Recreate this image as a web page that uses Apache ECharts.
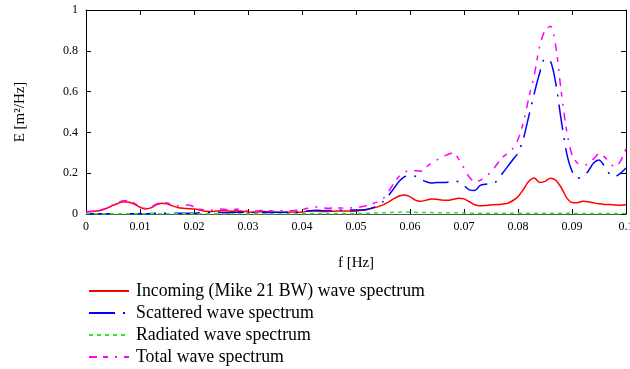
<!DOCTYPE html>
<html>
<head>
<meta charset="utf-8">
<script src="https://cdn.jsdelivr.net/npm/echarts@6/dist/echarts.min.js"></script>
<style>
  html, body { margin: 0; padding: 0; background: #fff; }
  #chart { width: 630px; height: 369px; }
</style>
</head>
<body>
<div id="chart"></div>
<script>
// frequency axis, step 0.001 Hz
const freq = [];
for (let i = 0; i <= 100; i++) freq.push(+(i / 1000).toFixed(3));

const incoming = [
  0.010, 0.012, 0.015, 0.020, 0.030, 0.042, 0.053, 0.060, 0.058, 0.048,
  0.033, 0.025, 0.030, 0.045, 0.053, 0.050, 0.040, 0.032, 0.028, 0.026,
  0.024, 0.020, 0.014, 0.012, 0.013, 0.016, 0.015, 0.014, 0.016, 0.014,
  0.010, 0.008, 0.010, 0.012, 0.010, 0.008, 0.007, 0.008, 0.010, 0.009,
  0.010, 0.013, 0.015, 0.014, 0.012, 0.013, 0.014, 0.015, 0.015, 0.014,
  0.015, 0.018, 0.022, 0.028, 0.035, 0.045, 0.058, 0.075, 0.088, 0.093,
  0.085, 0.068, 0.062, 0.068, 0.073, 0.072, 0.068, 0.067, 0.072, 0.077,
  0.074, 0.060, 0.045, 0.040, 0.042, 0.045, 0.046, 0.048, 0.052, 0.065,
  0.085, 0.120, 0.160, 0.177, 0.155, 0.160, 0.175, 0.165, 0.130, 0.080,
  0.056, 0.055, 0.062, 0.060, 0.055, 0.050, 0.047, 0.046, 0.044, 0.043,
  0.045
];

const scattered = [
  0.001, 0.001, 0.001, 0.001, 0.001, 0.001, 0.001, 0.001, 0.001, 0.001,
  0.001, 0.001, 0.002, 0.004, 0.004, 0.004, 0.004, 0.004, 0.004, 0.004,
  0.004, 0.006, 0.007, 0.008, 0.008, 0.007, 0.006, 0.007, 0.008, 0.008,
  0.007, 0.008, 0.008, 0.008, 0.007, 0.008, 0.008, 0.009, 0.008, 0.008,
  0.010, 0.015, 0.017, 0.018, 0.016, 0.017, 0.018, 0.019, 0.018, 0.019,
  0.020, 0.020, 0.022, 0.030, 0.042, 0.060, 0.090, 0.125, 0.160, 0.183,
  0.187, 0.185, 0.170, 0.158, 0.152, 0.155, 0.155, 0.156, 0.162, 0.158,
  0.140, 0.118, 0.115, 0.140, 0.146, 0.147, 0.160, 0.195, 0.230, 0.265,
  0.300, 0.370, 0.480, 0.590, 0.690, 0.760, 0.750, 0.640, 0.460, 0.300,
  0.210, 0.175, 0.185, 0.210, 0.250, 0.265, 0.235, 0.195, 0.185, 0.200,
  0.225
];

const radiated = [
  0.001, 0.001, 0.001, 0.001, 0.001, 0.001, 0.001, 0.001, 0.001, 0.001,
  0.001, 0.001, 0.001, 0.001, 0.001, 0.001, 0.001, 0.001, 0.001, 0.001,
  0.001, 0.001, 0.001, 0.001, 0.001, 0.001, 0.001, 0.001, 0.001, 0.001,
  0.001, 0.001, 0.001, 0.001, 0.001, 0.001, 0.001, 0.001, 0.001, 0.001,
  0.002, 0.002, 0.002, 0.002, 0.002, 0.002, 0.002, 0.002, 0.002, 0.002,
  0.003, 0.003, 0.004, 0.004, 0.005, 0.006, 0.007, 0.008, 0.009, 0.010,
  0.009, 0.008, 0.007, 0.007, 0.007, 0.006, 0.006, 0.006, 0.006, 0.006,
  0.005, 0.004, 0.004, 0.004, 0.004, 0.004, 0.004, 0.004, 0.004, 0.004,
  0.004, 0.004, 0.004, 0.004, 0.004, 0.004, 0.004, 0.004, 0.004, 0.004,
  0.003, 0.003, 0.003, 0.003, 0.003, 0.003, 0.003, 0.003, 0.003, 0.003,
  0.003
];

const total = [
  0.012, 0.014, 0.017, 0.022, 0.032, 0.045, 0.057, 0.065, 0.063, 0.052,
  0.036, 0.028, 0.033, 0.048, 0.056, 0.054, 0.045, 0.040, 0.044, 0.044,
  0.035, 0.025, 0.020, 0.018, 0.022, 0.025, 0.022, 0.020, 0.024, 0.020,
  0.016, 0.014, 0.016, 0.018, 0.016, 0.015, 0.017, 0.015, 0.016, 0.018,
  0.022, 0.028, 0.032, 0.035, 0.030, 0.028, 0.030, 0.030, 0.028, 0.030,
  0.032, 0.036, 0.042, 0.050, 0.060, 0.075, 0.110, 0.150, 0.185, 0.205,
  0.215, 0.212, 0.210, 0.230, 0.250, 0.265, 0.280, 0.292, 0.300, 0.270,
  0.225, 0.180, 0.160, 0.165, 0.185, 0.205, 0.240, 0.275, 0.295, 0.320,
  0.365, 0.450, 0.570, 0.680, 0.820, 0.900, 0.920, 0.820, 0.600, 0.410,
  0.290, 0.250, 0.240, 0.245, 0.270, 0.295, 0.280, 0.250, 0.230, 0.260,
  0.320
];

const seriesNames = [
  'Incoming (Mike 21 BW) wave spectrum',
  'Scattered wave spectrum',
  'Radiated wave spectrum',
  'Total wave spectrum'
];

function pairs(values) {
  return freq.map((f, i) => [f, values[i]]);
}

const font = 'Liberation Serif';
const chart = echarts.init(document.getElementById('chart'));

const baseAxis = {
  type: 'value',
  min: 0,
  splitLine: { show: false },
  axisTick: { show: true, inside: true, length: 5, lineStyle: { color: '#000' } },
  axisLine: { show: true, onZero: false, lineStyle: { color: '#000', width: 1 } }
};

function xAx(extra) {
  return Object.assign({}, baseAxis, { max: 0.1, interval: 0.01 }, extra);
}
function yAx(extra) {
  return Object.assign({}, baseAxis, { max: 1, interval: 0.2 }, extra);
}

function lineSeries(name, values, color, type) {
  return {
    name: name, type: 'line', data: pairs(values),
    showSymbol: false, smooth: 0.3,
    lineStyle: { color: color, width: 1.5, type: type },
    itemStyle: { color: color }
  };
}

const option = {
  animation: false,
  backgroundColor: '#fff',
  grid: { left: 86, right: 4, top: 10, bottom: 155, outerBoundsMode: 'none', containLabel: false },
  xAxis: [
    xAx({
      position: 'bottom',
      name: 'f [Hz]',
      nameLocation: 'middle',
      nameGap: 42,
      nameTextStyle: { fontFamily: font, fontSize: 15, color: '#000' },
      axisLabel: {
        fontFamily: font, fontSize: 12, color: '#000', margin: 7,
        formatter: v => String(parseFloat(v.toFixed(2)))
      },
      axisLine: { show: true, onZero: false, lineStyle: { color: '#555', width: 1 } }
    }),
    xAx({ position: 'top', axisLabel: { show: false } })
  ],
  yAxis: [
    yAx({
      position: 'left',
      name: 'E [m²/Hz]',
      nameLocation: 'middle',
      nameRotate: 90,
      nameGap: 58,
      nameTextStyle: { fontFamily: font, fontSize: 15, color: '#000' },
      axisLabel: {
        fontFamily: font, fontSize: 12, color: '#000', margin: 8,
        formatter: v => String(parseFloat(v.toFixed(1)))
      }
    }),
    yAx({ position: 'right', axisLabel: { show: false } })
  ],
  legend: {
    orient: 'vertical',
    left: 88,
    top: 282,
    height: 100,
    padding: 0,
    itemWidth: 40,
    itemHeight: 14,
    itemGap: 4,
    itemStyle: { opacity: 0 },
    textStyle: { fontFamily: font, fontSize: 17.8, color: '#000', padding: [0, 0, 0, 2] },
    data: seriesNames
  },
  series: [
    lineSeries(seriesNames[0], incoming, '#ff0000', 'solid'),
    lineSeries(seriesNames[1], scattered, '#0000ff', [26, 8, 2, 8]),
    lineSeries(seriesNames[2], radiated, '#22ee22', [4, 4]),
    lineSeries(seriesNames[3], total, '#ff00ff', [8, 6, 5, 7, 2, 7])
  ]
};

chart.setOption(option);
</script>
</body>
</html>
